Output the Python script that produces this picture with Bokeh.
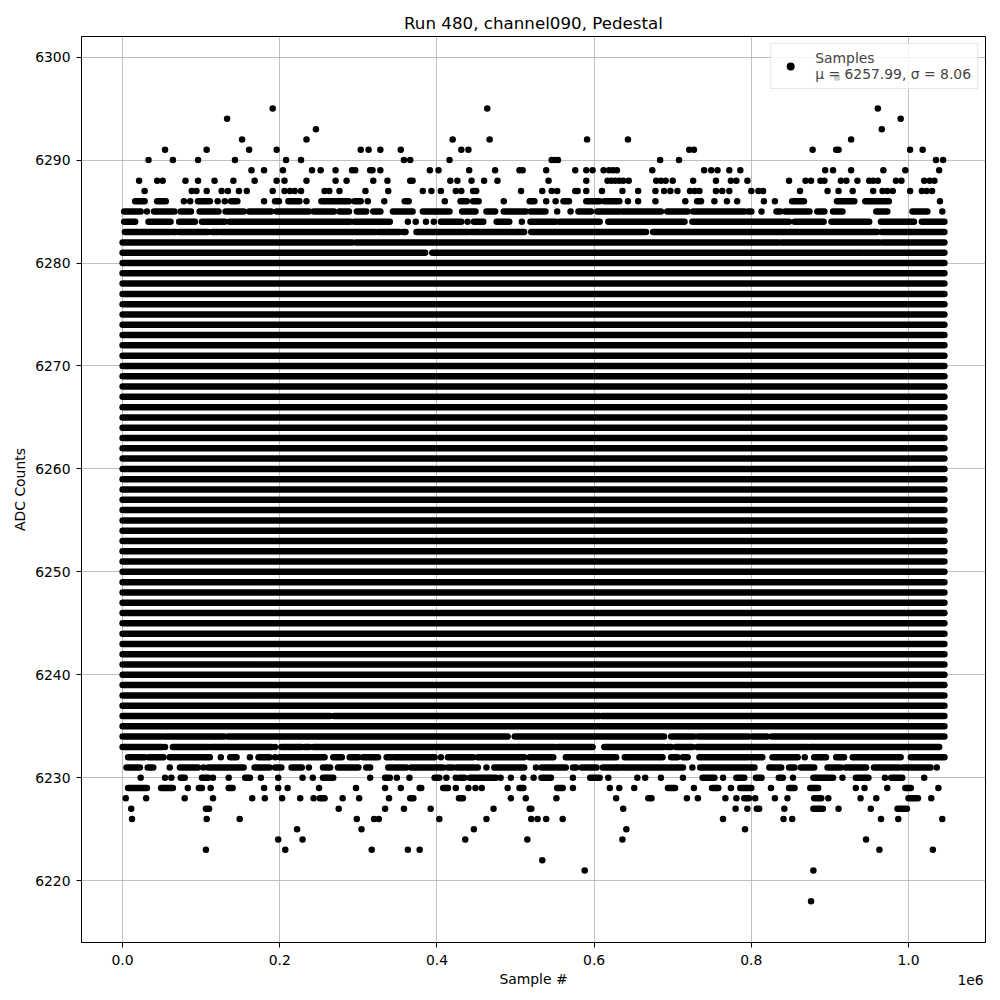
from bokeh.plotting import figure
from bokeh.models import (Range1d, FixedTicker, NumeralTickFormatter, Legend, LegendItem,
                          LinearAxis, ColumnDataSource)
from bokeh.embed import file_html
from bokeh.resources import INLINE

TITLE = "Run 480, channel090, Pedestal"
X_LABEL = "Sample #"
Y_LABEL = "ADC Counts"
LEGEND_LABEL = "Samples\n\u03bc = 6257.99, \u03c3 = 8.06"
X_SCALE_LABEL = "1e6"
X_SCALE_LABEL_POS = 1.079   # where the offset text sits along the x axis

x_ticks = [0.0, 0.2, 0.4, 0.6, 0.8, 1.0]          # sample number, units of 1e6
y_ticks = [6220, 6230, 6240, 6250, 6260, 6270, 6280, 6290, 6300]

# sample numbers in units of 1e6
first_sample = 0.0
last_sample = 1.0457

# ADC levels that are hit continuously over the whole run
core_levels = [6235, 6237, 6238, 6239, 6240, 6241, 6242, 6243, 6244, 6245, 6246, 6247,
               6248, 6249, 6250, 6251, 6252, 6253, 6254, 6255, 6256, 6257, 6258, 6259,
               6260, 6261, 6262, 6263, 6264, 6265, 6266, 6267, 6268, 6269, 6270, 6271,
               6272, 6273, 6274, 6275, 6276, 6277, 6278, 6279, 6280]

# partially filled levels: a number is a single sample, a pair is a run of samples
row_6298 = [0.909]
row_6295 = [0.191, 0.464, 0.961]
row_6294 = [0.133, 0.990]
row_6293 = [0.246, 0.966]
row_6292 = [0.152, 0.234, 0.420, 0.467, 0.591, 0.643, 0.927]
row_6291 = [0.054, 0.107, 0.161, 0.196, 0.303, 0.313, 0.328, 0.354, 0.431, 0.440, 0.721,
            0.727, 0.878, 0.908, 0.911, 1.002, 1.018]
row_6290 = [0.033, 0.064, 0.096, 0.143, 0.208, 0.227, 0.358, 0.366, 0.416, 0.546, 0.550,
            0.554, 0.684, 0.708, 1.035, 1.044]
row_6289 = [0.164, 0.180, 0.204, 0.241, 0.252, 0.271, 0.292, 0.296, 0.315, 0.318, 0.328,
            0.391, 0.402, 0.441, 0.474, 0.505, 0.509, 0.539, 0.576, 0.590, 0.598, 0.612,
            0.619, 0.624, 0.629, 0.674, 0.740, 0.749, 0.757, 0.772, 0.786, 0.894, 0.904,
            0.927, 0.968, 0.996, 1.039]
row_6288 = [0.021, 0.044, 0.051, 0.080, 0.096, 0.117, 0.141, 0.168, 0.196, 0.206, 0.234,
            0.271, 0.285, 0.319, 0.337, 0.366, 0.369, 0.417, 0.426, 0.444, 0.460, 0.477,
            0.542, 0.590, 0.617, 0.622, 0.627, 0.632, 0.637, 0.644, 0.679, 0.685, 0.691,
            0.700, 0.726, 0.755, 0.774, 0.781, 0.795, 0.848, 0.869, 0.876, 0.888, 0.893,
            0.914, 0.921, 0.935, 0.950, 0.955, 0.961, 0.984, 0.991, 1.020, 1.027, 1.033]
row_6287 = [0.028, 0.088, 0.094, 0.107, 0.126, 0.134, 0.148, 0.158, 0.191, 0.206, 0.213,
            0.219, 0.227, 0.257, 0.263, 0.276, 0.309, 0.338, 0.382, 0.393, 0.405, 0.424,
            0.431, 0.446, 0.450, 0.507, 0.534, 0.546, 0.553, 0.576, 0.579, 0.590, 0.610,
            0.636, 0.656, 0.678, 0.689, 0.697, 0.706, 0.722, 0.728, 0.734, 0.755, 0.763,
            0.772, 0.800, 0.809, 0.815, 0.862, 0.897, 0.911, 0.929, 0.955, 0.967, 0.973,
            0.980, 1.002, 1.017, 1.023, 1.030]
row_6286 = [(0.016, 0.028), (0.044, 0.055), 0.078, 0.086, (0.096, 0.111), 0.121, 0.130,
            (0.138, 0.146), 0.180, (0.194, 0.199), (0.211, 0.225), 0.234, (0.253, 0.288),
            (0.295, 0.303), 0.312, 0.333, (0.359, 0.364), 0.410, (0.430, 0.438),
            (0.446, 0.453), 0.485, (0.518, 0.524), 0.539, 0.551, (0.561, 0.568),
            (0.590, 0.607), (0.613, 0.632), 0.643, 0.656, 0.678, 0.716, (0.731, 0.736),
            0.753, 0.769, 0.782, 0.816, 0.830, (0.852, 0.867), (0.909, 0.931),
            (0.945, 0.975), 1.040]
row_6285 = [(0.002, 0.023), 0.031, (0.040, 0.066), (0.074, 0.087), (0.098, 0.122),
            (0.131, 0.154), (0.161, 0.189), (0.196, 0.237), (0.243, 0.269), (0.276, 0.288),
            (0.298, 0.310), (0.319, 0.328), (0.344, 0.369), (0.382, 0.416), (0.432, 0.449),
            (0.463, 0.474), (0.485, 0.513), (0.519, 0.538), 0.553, 0.570, (0.580, 0.596),
            (0.604, 0.632), (0.636, 0.685), (0.693, 0.719), (0.726, 0.791), (0.796, 0.800),
            0.813, (0.832, 0.837), (0.843, 0.874), (0.884, 0.893), (0.904, 0.916),
            (0.959, 0.973), (1.005, 1.024), 1.043]
row_6284 = [(0.002, 0.016), (0.033, 0.061), (0.072, 0.092), (0.101, 0.130), (0.136, 0.239),
            (0.242, 0.290), (0.295, 0.320), (0.323, 0.340), 0.363, 0.373, 0.386, 0.396,
            (0.405, 0.431), 0.439, (0.447, 0.459), (0.476, 0.492), 0.508, (0.519, 0.551),
            (0.556, 0.607), (0.618, 0.715), (0.725, 0.848), (0.855, 0.892), (0.902, 0.950),
            (0.965, 1.007), (1.017, 1.0457)]
row_6283 = [(0.003, 0.060), (0.063, 0.068), (0.072, 0.109), (0.114, 0.121), (0.124, 0.279),
            (0.281, 0.321), (0.325, 0.352), (0.357, 0.360), (0.374, 0.440), (0.443, 0.448),
            (0.450, 0.511), (0.520, 0.666), (0.675, 0.960), (0.966, 1.0457)]
row_6282 = [(0.0, 0.292), (0.297, 0.834), (0.838, 0.963), (0.967, 1.0457)]
row_6281 = [(0.0, 0.385), (0.394, 0.941), (0.944, 1.0457)]
row_6236 = [(0.0, 0.264), (0.269, 0.607), (0.610, 1.0457)]
row_6234 = [(0.0, 0.049), (0.053, 0.129), (0.134, 0.172), (0.175, 0.461), (0.464, 0.490),
            (0.499, 0.689), (0.698, 0.727), (0.732, 0.797), (0.802, 0.820), (0.826, 1.0457)]
row_6233 = [(0.0, 0.050), 0.054, (0.064, 0.109), (0.112, 0.190), 0.194, (0.202, 0.228),
            (0.232, 0.238), (0.243, 0.550), (0.554, 0.598), (0.613, 0.689), (0.693, 0.698),
            (0.704, 0.725), (0.731, 0.871), (0.874, 1.039)]
row_6232 = [(0.007, 0.028), (0.033, 0.052), (0.060, 0.098), (0.101, 0.111), 0.125,
            (0.137, 0.145), 0.162, (0.173, 0.187), 0.194, (0.200, 0.257), (0.268, 0.279),
            (0.289, 0.300), (0.306, 0.325), (0.336, 0.342), (0.346, 0.397), 0.405,
            (0.414, 0.446), (0.452, 0.511), (0.518, 0.548), (0.564, 0.628), (0.639, 0.687),
            (0.698, 0.706), (0.713, 0.719), (0.734, 0.795), (0.799, 0.814), (0.827, 0.859),
            0.868, (0.880, 0.895), (0.908, 0.918), (0.929, 0.990), (1.003, 1.0457)]
row_6231 = [(0.005, 0.022), (0.032, 0.039), 0.060, (0.073, 0.096), 0.103, (0.109, 0.154),
            (0.168, 0.187), (0.194, 0.202), (0.215, 0.228), 0.237, (0.255, 0.264),
            (0.274, 0.300), (0.310, 0.315), (0.338, 0.361), (0.367, 0.408), (0.414, 0.420),
            (0.425, 0.452), 0.463, (0.473, 0.511), 0.526, (0.533, 0.564), (0.573, 0.577),
            (0.584, 0.603), (0.611, 0.628), (0.630, 0.713), 0.725, (0.735, 0.804),
            (0.823, 0.838), (0.848, 0.855), (0.863, 0.880), (0.897, 0.914), (0.920, 0.946),
            (0.956, 0.988), (0.993, 1.028), 1.036]
row_6230 = [0.023, 0.054, 0.062, (0.074, 0.079), (0.101, 0.109), 0.115, 0.135, (0.156, 0.162),
            0.176, 0.198, 0.229, 0.242, (0.255, 0.268), 0.315, (0.334, 0.340), 0.349, 0.365,
            (0.397, 0.403), 0.412, 0.424, (0.429, 0.435), (0.442, 0.449), (0.452, 0.475),
            0.481, 0.494, 0.510, 0.523, (0.533, 0.545), 0.573, (0.595, 0.607), 0.618, 0.655,
            0.665, 0.685, 0.713, (0.738, 0.753), 0.764, (0.781, 0.791), (0.806, 0.813),
            (0.835, 0.840), 0.853, (0.879, 0.904), 0.916, (0.933, 0.949), 0.970,
            (0.978, 0.992), 1.020]
row_6229 = [(0.007, 0.031), (0.049, 0.064), 0.083, (0.097, 0.101), 0.112, (0.135, 0.140),
            0.180, 0.198, 0.210, 0.250, 0.297, 0.334, 0.354, (0.378, 0.380), (0.408, 0.414),
            0.424, 0.440, 0.449, 0.457, 0.490, (0.505, 0.510), (0.553, 0.560), 0.573, 0.620,
            0.632, 0.651, (0.694, 0.703), 0.727, (0.750, 0.758), 0.774, (0.786, 0.800),
            0.825, (0.848, 0.855), (0.875, 0.885), 0.933, 0.944, 0.973, (0.996, 1.003), 1.038]
row_6228 = [0.004, 0.030, 0.079, 0.115, 0.165, 0.181, 0.203, 0.226, 0.243, (0.251, 0.257),
            0.280, 0.301, 0.339, (0.366, 0.370), (0.428, 0.433), 0.494, 0.513, 0.552, 0.628,
            (0.669, 0.673), 0.718, 0.732, 0.767, 0.781, (0.791, 0.797), 0.805, 0.830, 0.846,
            (0.880, 0.889), 0.898, 0.939, 0.959, (1.000, 1.012), 1.029]
row_6227 = [0.011, (0.106, 0.110), 0.275, 0.334, 0.358, 0.392, 0.472, (0.518, 0.520), 0.637,
            0.780, 0.795, (0.807, 0.810), 0.842, (0.879, 0.891), 0.911, 0.952, (0.986, 0.998)]
row_6226 = [0.012, 0.107, 0.149, 0.298, 0.320, 0.326, 0.403, 0.463, 0.520, 0.528, 0.539,
            0.560, 0.764, 0.841, 0.852, 0.965, 0.987, 1.043]
row_6225 = [0.222, 0.304, 0.447, 0.641, 0.792]
row_6224 = [0.198, 0.229, 0.436, 0.515, 0.636, 0.946]
row_6223 = [0.106, 0.207, 0.317, 0.363, 0.378, 0.963, 1.031]
row_6222 = [0.534]
row_6221 = [0.588, 0.879]
row_6218 = [0.876]

partial_rows = [
    (6298, row_6298), (6295, row_6295), (6294, row_6294), (6293, row_6293),
    (6292, row_6292), (6291, row_6291), (6290, row_6290), (6289, row_6289),
    (6288, row_6288), (6287, row_6287), (6286, row_6286), (6285, row_6285),
    (6284, row_6284), (6283, row_6283), (6282, row_6282), (6281, row_6281),
    (6236, row_6236), (6234, row_6234), (6233, row_6233), (6232, row_6232),
    (6231, row_6231), (6230, row_6230), (6229, row_6229), (6228, row_6228),
    (6227, row_6227), (6226, row_6226), (6225, row_6225), (6224, row_6224),
    (6223, row_6223), (6222, row_6222), (6221, row_6221), (6218, row_6218),
]

# ---- build sources ----
seg = dict(x0=[], x1=[], y=[])
dots = dict(x=[], y=[])
for lvl in core_levels:
    seg["x0"].append(first_sample)
    seg["x1"].append(last_sample)
    seg["y"].append(lvl)
for lvl, items in partial_rows:
    for it in items:
        if isinstance(it, tuple):
            seg["x0"].append(it[0])
            seg["x1"].append(it[1])
            seg["y"].append(lvl)
        else:
            dots["x"].append(it)
            dots["y"].append(lvl)

FONT = "DejaVu Sans"
DOT = 6.5

span = last_sample - first_sample
p = figure(width=1000, height=1000, output_backend="svg", toolbar_location=None,
           x_range=Range1d(first_sample - 0.05 * span, last_sample + 0.05 * span),
           y_range=Range1d(6214, 6302),
           min_border_left=81, min_border_right=15, min_border_top=36, min_border_bottom=58)

p.title.text = TITLE
p.title.align = "center"
p.title.text_font = FONT
p.title.text_font_size = "16.7px"
p.title.text_font_style = "normal"
p.title.text_color = "black"
p.title.standoff = 8

p.segment(x0="x0", y0="y", x1="x1", y1="y", source=ColumnDataSource(seg),
          line_color="black", line_width=DOT, line_cap="round")
p.scatter(x="x", y="y", source=ColumnDataSource(dots), size=DOT,
          fill_color="black", line_color=None)
# legend marker: matplotlib draws a smaller dot in the legend; it sits on top of an
# existing (larger) sample dot so it adds nothing visible to the plot area
legend_marker = p.scatter(x=dots["x"][:1], y=dots["y"][:1], size=4.5,
                          fill_color="black", line_color=None)

p.xaxis.ticker = FixedTicker(ticks=x_ticks)
p.xaxis.formatter = NumeralTickFormatter(format="0.0")
p.yaxis.ticker = FixedTicker(ticks=y_ticks)
p.xaxis.axis_label = X_LABEL
p.yaxis.axis_label = Y_LABEL
for ax in (p.xaxis, p.yaxis):
    ax.axis_label_text_font = FONT
    ax.axis_label_text_font_size = "13.9px"
    ax.axis_label_text_font_style = "normal"
    ax.axis_label_text_color = "black"
    ax.major_label_text_font = FONT
    ax.major_label_text_font_size = "13.9px"
    ax.major_label_text_color = "black"
    ax.major_tick_out = 5
    ax.major_tick_in = 0
    ax.minor_tick_out = 0
    ax.minor_tick_in = 0
    ax.axis_line_color = "black"
    ax.major_tick_line_color = "black"
p.xaxis.major_label_standoff = 7
p.xaxis.axis_label_standoff = 3
p.yaxis.major_label_standoff = 6
p.yaxis.axis_label_standoff = 4

# offset text "1e6" at the right end of the x axis
scale_axis = LinearAxis(ticker=FixedTicker(ticks=[X_SCALE_LABEL_POS]),
                        major_label_overrides={X_SCALE_LABEL_POS: X_SCALE_LABEL},
                        axis_line_color=None, major_tick_line_color=None,
                        minor_tick_line_color=None, major_tick_out=0, major_tick_in=0,
                        minor_tick_out=0, minor_tick_in=0,
                        major_label_standoff=-15,
                        major_label_text_font=FONT, major_label_text_font_size="13.9px",
                        major_label_text_color="black")
p.add_layout(scale_axis, "below")

p.grid.grid_line_color = "#b0b0b0"
p.grid.grid_line_width = 0.8
p.outline_line_color = "black"
p.outline_line_width = 1
p.background_fill_color = "white"
p.border_fill_color = "white"

legend = Legend(items=[LegendItem(label=LEGEND_LABEL, renderers=[legend_marker])],
                location="top_right")
legend.label_text_font = FONT
legend.label_text_font_size = "13.9px"
legend.border_line_color = "#d0d0d0"
legend.background_fill_alpha = 0.8
legend.margin = 7
legend.padding = 6
legend.glyph_width = 26
legend.label_standoff = 12
p.add_layout(legend)

open("out.html", "w").write(file_html(p, INLINE))
